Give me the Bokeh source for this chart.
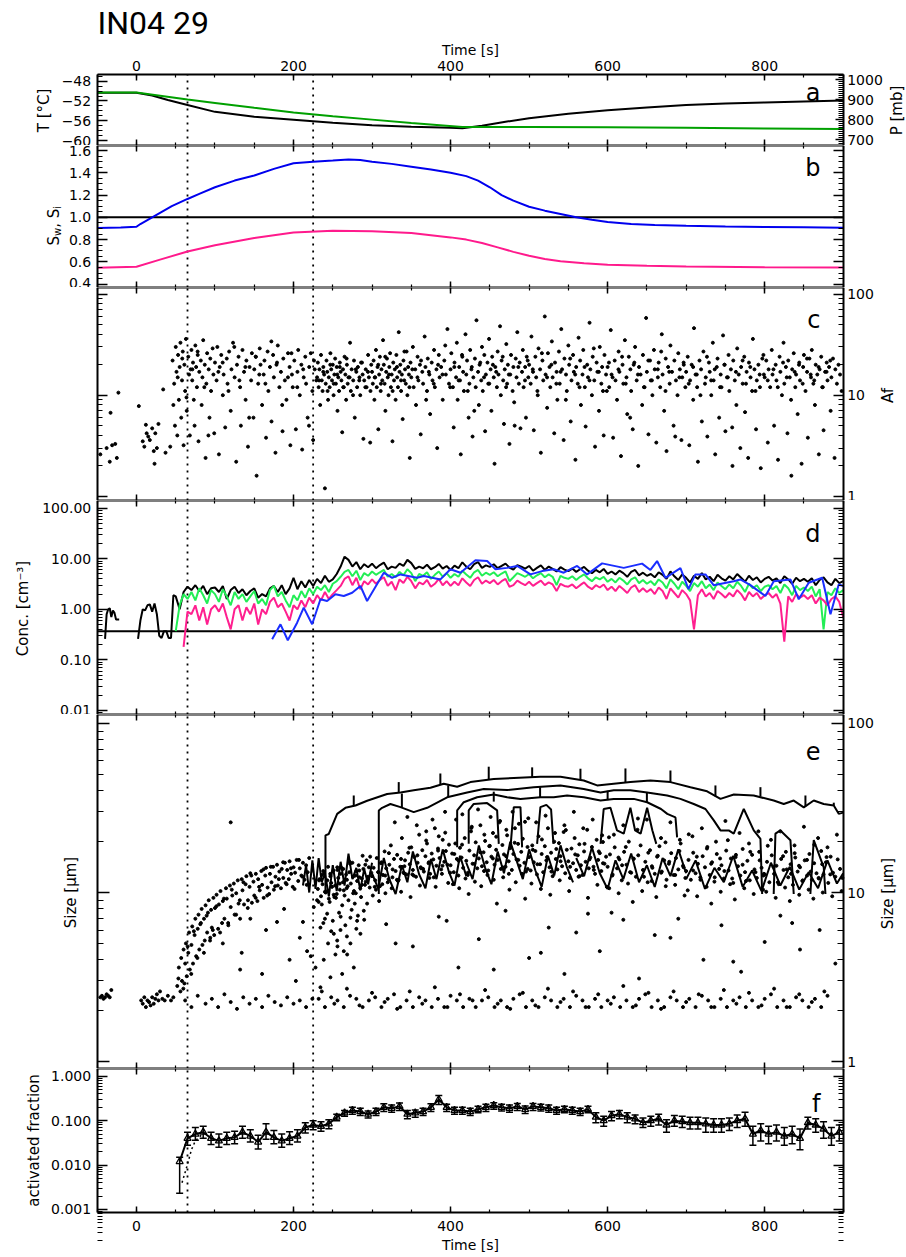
import numpy as np
from bokeh.plotting import figure
from bokeh.models import (Range1d, LinearAxis, LogAxis, FixedTicker, SingleIntervalTicker,
                          Label, ColumnDataSource, Whisker, TeeHead, CustomJSTickFormatter, Grid)
from bokeh.layouts import column
from bokeh.embed import file_html
from bokeh.resources import INLINE

nan = float("nan")

# ---------------- data ----------------
dotted_times = [65, 225]

# panel a: temperature (black, left) and pressure (green, right)
T_t = [-50, 0, 20, 40, 65, 100, 150, 200, 250, 300, 350, 400, 415, 440, 470, 500, 550, 600, 650, 700, 750, 800, 850, 900]
T_v = [-50.35, -50.35, -50.9, -51.8, -52.8, -54.2, -55.2, -55.8, -56.4, -56.9, -57.2, -57.4, -57.5, -57.0, -56.2,
       -55.5, -54.6, -53.9, -53.3, -52.8, -52.5, -52.3, -52.1, -51.9]
P_t = [-50, 0, 65, 100, 150, 200, 250, 300, 350, 415, 500, 600, 700, 800, 900]
P_v = [936, 936, 901, 884, 860, 837, 818, 801, 784, 764, 764, 763, 760, 757, 754]
T_ticks = [-60, -56, -52, -48]
P_ticks = [700, 800, 900, 1000]

# panel b: saturation ratios
sw_t = [-50, -20, 0, 5, 10, 20, 30, 45, 65, 80, 100, 125, 150, 175, 200, 225, 250, 270, 285, 300, 325, 350, 375, 400,
        420, 435, 450, 465, 480, 500, 520, 540, 560, 580, 600, 630, 660, 700, 750, 800, 850, 900]
sw_v = [0.905, 0.908, 0.915, 0.94, 0.96, 1.0, 1.04, 1.10, 1.165, 1.21, 1.27, 1.33, 1.375, 1.435, 1.485, 1.50, 1.51,
        1.52, 1.515, 1.50, 1.48, 1.455, 1.43, 1.40, 1.37, 1.33, 1.27, 1.20, 1.15, 1.095, 1.06, 1.03, 1.0, 0.978,
        0.958, 0.94, 0.932, 0.924, 0.918, 0.914, 0.91, 0.907]
si_t = [-50, 0, 30, 65, 100, 150, 200, 250, 300, 350, 400, 420, 440, 460, 480, 500, 520, 540, 570, 600, 650, 700, 800, 900]
si_v = [0.548, 0.557, 0.62, 0.693, 0.75, 0.815, 0.864, 0.88, 0.875, 0.86, 0.82, 0.80, 0.77, 0.73, 0.69, 0.655, 0.625,
        0.605, 0.588, 0.575, 0.565, 0.558, 0.552, 0.549]
s_ref = 1.0

# panel c: Af scatter (segments of times / values)
c_t = [
    [-46, -38, -34, -31, -27, -25, -23, -33],
    [3, 8, 10, 12, 13, 15, 17, 20, 22, 23, 24, 26, 28, 34, 37, 43],
    [46, 47, 48, 49, 50, 51, 52, 53, 54, 55, 56, 57, 58, 59, 60, 61, 62, 63, 64, 66, 67, 68, 69],
    [70, 71, 72, 73, 74, 75, 76, 77, 78, 79, 80, 82, 83, 84, 85, 87, 88, 89, 90, 92, 93, 94, 95, 97, 98, 99],
    [100, 102, 103, 105, 106, 108, 110, 111, 113, 115, 116, 118, 120, 121, 123, 125, 127, 128, 130, 132, 133, 135,
     137, 139, 140, 142, 144, 146, 147, 149],
    [150, 152, 153, 155, 157, 158, 160, 162, 163, 165, 167, 168, 170, 172, 174, 175, 177, 179, 180, 182, 184, 186,
     187, 189, 191, 193, 195, 196, 198, 199],
    [201, 203, 205, 206, 208, 210, 211, 213, 215, 216, 218, 220, 222, 224, 225, 227, 229],
    [230, 231, 232, 233, 234, 235, 236, 237, 238, 239, 240, 241, 242, 243, 244, 245, 246, 247, 248, 249, 250, 251,
     252, 253, 254, 255, 256, 257, 258, 259, 260, 261, 262, 263, 264, 265, 266, 267, 268, 269, 270, 272, 273, 274,
     276, 277, 278, 280, 281, 282, 284, 285, 286, 288, 289, 290, 292, 293, 295, 296, 298, 299],
    [300, 301, 302, 303, 304, 305, 306, 307, 308, 309, 310, 311, 312, 313, 314, 315, 316, 317, 318, 319, 320, 321,
     322, 323, 324, 325, 326, 327, 328, 329, 330, 331, 332, 333, 334, 335, 336, 337, 338, 339, 340, 341, 342, 343,
     344, 345, 346, 347, 348, 349, 350, 352, 353, 355, 356, 358, 359, 361, 362, 364, 365, 367, 368, 370, 371, 373,
     374, 376, 377, 379, 380, 382, 383, 385, 386, 388, 390, 392, 394, 396, 398],
    [400, 401, 403, 404, 405, 407, 408, 409, 411, 412, 413, 415, 416, 417, 419, 420, 421, 423, 424, 425, 427, 428,
     429, 431, 432, 433, 435, 436, 437, 439, 440, 441, 443, 444, 445, 447, 448, 449, 451, 452, 453, 455, 456, 457,
     459, 460, 461, 463, 464, 465, 467, 468, 469, 471, 472, 473, 475, 476, 477, 479, 480, 481, 483, 484, 485, 487,
     488, 489, 491, 492, 493, 495, 496, 497, 499],
    [500, 502, 503, 505, 506, 508, 509, 511, 512, 514, 515, 517, 518, 520, 521, 523, 524, 526, 527, 529, 530, 532,
     533, 535, 536, 538, 539, 541, 542, 544, 545, 547, 548, 550, 551, 553, 554, 556, 557, 559, 560, 562, 563, 565,
     566, 568, 569, 571, 572, 574, 575, 577, 578, 580, 581, 583, 584, 586, 587, 589, 590, 592, 593, 595, 596, 598, 599],
    [600, 602, 604, 605, 607, 609, 610, 612, 614, 615, 617, 619, 620, 622, 624, 625, 627, 629, 630, 632, 634, 635,
     637, 639, 640, 642, 644, 645, 647, 649, 650, 652, 654, 655, 657, 659, 660, 662, 664, 665, 667, 669, 670, 672,
     674, 675, 677, 679, 680, 682, 684, 685, 687, 689, 690, 692, 694, 695, 697, 699],
    [700, 702, 704, 705, 707, 709, 710, 712, 714, 715, 717, 719, 720, 722, 724, 725, 727, 729, 730, 732, 734, 735,
     737, 739, 740, 742, 744, 745, 747, 749, 750, 752, 754, 755, 757, 759, 760, 762, 764, 765, 767, 769, 770, 772,
     774, 775, 777, 779, 780, 782, 784, 785, 787, 789, 790, 792, 794, 795, 797, 799],
    [800, 802, 804, 805, 807, 809, 810, 812, 814, 815, 817, 819, 820, 822, 824, 825, 827, 829, 830, 832, 834, 835,
     837, 839, 840, 842, 844, 845, 847, 849, 850, 852, 854, 855, 857, 859, 860, 862, 864, 865, 867, 869, 870, 872,
     874, 875, 877, 879, 880, 882, 884, 885, 887, 889, 890, 892, 894, 896, 898],
    [52.5, 58.3, 63.7, 71.2, 77.9, 86.4, 91.6, 104.3, 109.8, 117.2, 124.6, 131.1, 138.7, 143.5, 151.9, 156.4, 164.2,
     171.8, 178.3, 185.6, 192.9, 197.4, 204.8, 212.3, 219.7, 226.1, 232.6, 237.9, 243.4, 246.8, 251.2, 255.7, 258.9,
     263.3, 267.6, 271.4, 275.8, 279.3, 283.7, 287.2, 291.5, 294.8, 297.6, 303.4, 307.9, 311.3, 316.8, 321.5, 326.2,
     331.7, 336.9, 341.2, 347.6, 351.3, 357.8, 362.4, 368.9, 372.3, 378.6, 384.1, 389.7, 393.2, 399.5, 404.8, 410.3,
     414.6, 421.9, 426.5, 430.2, 437.8, 442.6, 449.3, 453.9, 458.1, 466.4, 470.7, 474.2, 481.6, 486.3, 494.8, 498.2,
     504.7, 510.6, 516.3, 522.9, 528.4, 534.7, 540.1, 546.8, 552.3, 558.7, 564.2, 570.6, 576.9, 582.4, 588.8, 594.1,
     601.7, 606.3, 613.8, 618.4, 623.1, 628.7, 633.2, 638.6, 646.3, 651.8, 656.4, 663.9, 668.2, 673.7, 678.5, 686.1,
     691.4, 696.8, 703.3, 708.9, 713.6, 718.2, 726.5, 731.8, 736.4, 743.2, 748.7, 753.1, 758.6, 763.4, 771.9, 776.2,
     781.7, 788.3, 793.6, 798.4, 803.9, 811.2, 816.7, 823.4, 828.1, 833.6, 838.2, 843.7, 848.4, 853.9, 858.6, 863.1,
     868.7, 873.3, 878.8, 883.5, 888.1, 893.6, 897.2],
]
c_v = [
    [2.6, 3.0, 2.2, 3.2, 3.3, 2.4, 10.6, 6.7],
    [7.8, 3.5, 3.1, 5.1, 4.2, 3.9, 3.6, 4.7, 2.8, 2.1, 4.2, 3.0, 5.2, 11.4, 2.7, 3.1],
    [22, 8, 13, 5, 30, 17, 4, 25, 9, 19, 33, 6, 14, 27, 3.2, 20, 11, 36, 7, 24, 16, 4, 18],
    [28, 14, 21, 9, 5, 31, 19, 12, 25, 3.5, 17, 22, 8, 15, 35, 20, 2.4, 13, 26, 18, 6, 23, 11, 29, 16, 4.2],
    [21, 14, 30, 2.6, 19, 25, 10, 16, 4.8, 23, 13, 27, 7, 18, 33, 15, 2.2, 20, 24, 12, 5, 28, 17, 9, 22, 3.1, 19, 14,
     26, 6],
    [18, 24, 1.6, 13, 29, 20, 8, 16, 22, 3.8, 27, 11, 19, 5.5, 25, 15, 2.7, 21, 31, 12, 17, 4.4, 23, 14, 9, 26, 19,
     3.2, 16, 12],
    [22, 4.6, 17, 28, 10, 20, 2.9, 15, 24, 13, 6, 19, 26, 11, 3.6, 18, 14],
    [15, 21, 12, 18, 8, 25, 14, 11, 19, 16, 1.2, 13, 22, 17, 9, 15, 12, 26, 18, 14, 20, 10, 16, 23, 13, 19, 7, 15, 11,
     21, 17, 14, 4.3, 18, 12, 24, 16, 9, 20, 13, 15, 33, 11, 18, 14, 22, 6, 17, 12, 19, 15, 10, 21, 16, 3.7, 14, 18,
     12, 25, 15, 11, 20],
    [17, 13, 22, 9, 15, 28, 12, 19, 4.6, 16, 24, 11, 18, 14, 35, 20, 13, 7, 17, 23, 15, 10, 19, 26, 12, 16, 3.5, 21,
     14, 18, 9, 25, 15, 12, 42, 17, 20, 11, 16, 5.8, 22, 14, 18, 13, 27, 10, 19, 16, 2.4, 21, 15, 30, 12, 18, 8, 24,
     14, 20, 4.1, 17, 13, 38, 19, 11, 23, 16, 6.5, 21, 14, 28, 12, 18, 3.0, 25, 15, 19, 9, 22, 16, 45, 13],
    [18, 26, 12, 4.8, 21, 15, 33, 9, 19, 14, 2.6, 24, 17, 11, 40, 16, 22, 6, 13, 28, 19, 3.9, 15, 23, 12, 55, 17, 8,
     20, 14, 30, 11, 25, 4.4, 16, 21, 13, 36, 18, 7, 24, 15, 2.1, 19, 12, 27, 16, 48, 10, 22, 14, 5.2, 18, 32, 13, 20,
     3.3, 16, 25, 11, 19, 8.5, 23, 15, 42, 13, 21, 4.7, 17, 28, 12, 19, 6, 24, 15],
    [20, 13, 38, 17, 4.5, 24, 15, 10, 29, 18, 2.7, 22, 14, 60, 16, 7.5, 26, 19, 12, 34, 15, 4.2, 21, 17, 9, 27, 13,
     45, 18, 3.6, 23, 16, 11, 31, 20, 5.5, 14, 25, 17, 2.3, 19, 13, 37, 22, 8, 16, 28, 12, 4.9, 20, 15, 52, 18, 10,
     24, 14, 3.1, 21, 17, 7, 30, 13, 19, 4.0, 25, 16, 11],
    [19, 12, 44, 16, 3.8, 22, 14, 9, 27, 17, 2.5, 20, 13, 35, 15, 6.5, 24, 18, 11, 4.6, 21, 30, 14, 2.0, 19, 16, 8,
     25, 12, 58, 17, 4.1, 22, 14, 10, 28, 18, 3.4, 15, 21, 12, 40, 16, 7, 23, 2.8, 19, 13, 31, 17, 5, 22, 14, 10, 26,
     18, 3.6, 15, 20, 12],
    [17, 24, 3.2, 14, 20, 9, 46, 16, 12, 2.2, 22, 18, 5.5, 27, 13, 15, 3.9, 21, 17, 10, 33, 14, 2.6, 19, 23, 6, 16,
     12, 39, 20, 4.4, 15, 25, 11, 18, 2.0, 22, 14, 8, 29, 16, 3.0, 19, 13, 24, 6.8, 17, 2.4, 21, 15, 11, 36, 18, 4.6,
     14, 20, 12, 1.9, 23, 16],
    [15, 22, 3.4, 18, 12, 28, 16, 5, 20, 14, 2.3, 24, 17, 10, 33, 13, 19, 4.2, 22, 15, 1.6, 18, 26, 12, 16, 6.5, 21,
     14, 2.1, 19, 25, 11, 17, 3.8, 23, 15, 28, 13, 8, 20, 16, 2.6, 18, 24, 12, 4.5, 17, 21, 14, 19, 7, 15, 23, 2.4,
     18, 13, 20, 16, 11],
    [15, 23, 9.5, 18, 27, 12, 4, 17, 21, 11, 30, 14, 19, 6, 24, 16, 13, 34, 20, 8, 15, 26, 12, 18, 5, 22, 14, 17, 11,
     20, 13, 16, 19, 12, 23, 15, 10, 18, 14, 21, 12, 17, 3.4, 15, 20, 13, 24, 16, 11, 19, 14, 27, 12, 18, 15, 22, 9,
     17, 13, 20, 16, 31, 12, 19, 14, 25, 11, 18, 7, 21, 15, 13, 20, 17, 24, 12, 16, 5, 19, 14, 22, 18, 11, 26, 15, 20,
     13, 17, 9, 23, 16, 12, 19, 14, 29, 17, 11, 21, 15, 18, 24, 13, 6, 20, 16, 12, 22, 14, 18, 27, 11, 17, 3.9, 15,
     21, 13, 19, 16, 10, 24, 14, 18, 12, 20, 15, 4.8, 17, 22, 13, 19, 11, 16, 25, 14, 18, 12, 21, 15, 9, 17, 20, 13,
     23, 16, 14, 19, 12, 17, 22],
]

# panel d: concentrations, 5 s sampling from 50 s to 900 s
d_t = list(range(50, 905, 5))
bk_early_t = [-40, -38, -36, -34, -32, -30, -28, -26, -24, -22, -21, 2, 5, 8, 11, 14, 17, 20, 23, 26, 29, 32, 35,
              38, 41, 44, 47]
bk_early_v = [0.26, 0.8, 1.0, 1.05, 0.7, 0.95, 0.85, 0.63, 0.63, 0.63, nan, 0.26, 0.6, 1.0, 0.95, 1.2, 1.25, 0.9,
              1.3, 0.8, 0.3, 0.27, 0.37, 0.37, 0.27, 0.27, 1.9]
d_black = [1.8, 1.0, 2.2, 2.8, 2.4, 3.0, 2.3, 2.9, 2.0, 2.6, 2.7,
           2.2, 2.9, 1.6, 2.4, 2.8, 2.1, 2.5, 1.9, 2.3, 2.6,
           1.7, 2.0, 1.8, 2.6, 2.9, 2.2, 3.0, 2.0, 2.6, 4.2,
           2.5, 3.6, 2.7, 3.8, 2.9, 4.0, 3.3, 4.6, 3.5, 3.9,
           5.0, 7.0, 11.0, 9.5, 7.0, 8.6, 6.2, 7.8, 6.8, 8.0,
           6.5, 7.5, 8.4, 6.2, 7.0, 6.6, 8.0, 7.2, 9.5, 8.2,
           6.3, 7.0, 6.5, 7.6, 6.2, 6.8, 7.9, 6.4, 7.2, 6.0,
           7.3, 6.5, 8.5, 7.0, 6.2, 7.8, 8.6, 6.6, 7.4, 6.9,
           7.8, 6.5, 7.2, 8.0, 6.7, 6.1, 7.5, 7.0, 6.4, 7.2,
           5.8, 6.6, 7.4, 6.0, 7.0, 6.3, 5.6, 6.8, 6.1, 5.7,
           6.4, 5.5, 6.2, 6.9, 5.8, 5.2, 6.0, 5.4, 6.3, 5.0,
           5.6, 4.9, 5.8, 5.2, 4.4, 5.5, 6.0, 4.7, 5.3, 4.6,
           5.0, 4.3, 5.4, 4.8, 4.0, 5.6, 4.5, 3.8, 4.9, 4.2,
           3.4, 4.6, 4.0, 5.2, 3.9, 4.4, 3.6, 4.8, 4.1, 3.7,
           4.5, 3.9, 5.0, 4.2, 3.5, 4.6, 3.8, 4.3, 3.4, 4.0,
           4.4, 3.7, 4.1, 3.3, 4.5, 3.9, 3.2, 4.2, 3.6, 4.0,
           3.5, 4.1, 3.0, 3.8, 4.3, 3.4, 3.0, 4.0, 3.3, 3.6]
d_green = [0.37, 1.2, 2.0, 1.6, 2.2, 1.5, 2.6, 1.9, 1.3, 2.4, 2.0,
           1.4, 2.5, 1.8, 1.2, 2.2, 1.6, 2.0, 1.4, 1.8, 2.3,
           1.3, 1.6, 1.2, 2.4, 2.9, 1.8, 2.2, 1.5, 1.1, 1.9,
           1.5, 2.3, 1.7, 2.6, 2.0, 2.8, 2.4, 3.0, 2.2, 3.2,
           3.6, 4.4, 5.5, 6.0, 4.5, 5.8, 3.8, 5.2, 4.6, 5.6,
           4.8, 5.4, 6.0, 4.4, 5.0, 4.3, 5.5, 4.7, 6.2, 5.2,
           3.6, 5.0, 4.6, 5.4, 4.0, 4.8, 5.6, 4.4, 5.2, 4.2,
           5.0, 4.4, 5.8, 4.9, 4.2, 5.4, 6.0, 4.6, 5.3, 4.8,
           5.4, 4.5, 5.1, 5.6, 3.6, 4.3, 5.2, 4.8, 4.4, 5.0,
           4.1, 4.7, 5.2, 4.3, 4.9, 4.4, 3.0, 4.6, 4.2, 4.0,
           4.5, 3.8, 4.4, 4.9, 4.1, 3.6, 4.3, 3.9, 4.4, 3.5,
           4.0, 3.4, 4.2, 3.7, 3.1, 3.9, 4.3, 3.3, 3.8, 3.2,
           3.6, 3.0, 3.9, 3.4, 2.6, 3.9, 3.2, 2.5, 3.5, 2.9,
           2.3, 3.3, 2.8, 3.6, 2.6, 3.1, 2.4, 3.4, 2.9, 2.5,
           3.1, 2.6, 3.5, 2.9, 2.2, 3.2, 2.6, 3.0, 2.3, 2.8,
           3.0, 2.5, 2.9, 2.1, 3.1, 2.6, 1.9, 2.9, 2.4, 2.7,
           2.3, 2.8, 1.8, 2.5, 0.4, 2.2, 1.9, 2.6, 2.1, 2.4]
d_pink = [nan, nan, 0.18, 0.9, 0.8, 1.2, 0.6, 1.1, 0.5, 1.0, 1.2,
          0.9, 1.3, 0.7, 0.4, 1.0, 1.2, 0.6, 1.1, 0.8, 1.3,
          0.5, 1.0, 0.8, 1.4, 1.7, 1.1, 1.3, 0.9, 0.6, 1.2,
          1.0, 1.5, 1.1, 1.7, 1.3, 1.9, 1.5, 2.2, 1.6, 2.0,
          2.4, 2.9, 4.0, 4.5, 3.0, 4.2, 2.5, 3.6, 3.1, 3.9,
          3.2, 3.8, 4.3, 2.9, 3.5, 2.4, 3.9, 3.3, 4.4, 3.6,
          2.6, 3.4, 3.1, 3.8, 2.8, 3.2, 4.0, 3.0, 3.6, 2.9,
          3.5, 3.0, 4.1, 3.4, 2.9, 3.8, 4.3, 3.2, 3.7, 3.3,
          3.8, 3.1, 3.6, 4.0, 2.8, 3.0, 3.7, 3.3, 3.0, 3.5,
          2.9, 3.3, 3.7, 3.0, 3.4, 3.1, 2.3, 3.2, 2.9, 2.8,
          3.1, 2.6, 3.0, 3.4, 2.8, 2.5, 3.0, 2.7, 3.1, 2.4,
          2.8, 2.3, 2.9, 2.5, 2.1, 2.7, 3.0, 2.2, 2.6, 2.2,
          2.5, 2.0, 2.7, 2.3, 1.6, 2.6, 2.1, 1.7, 2.4, 2.0,
          1.5, 0.4, 1.9, 2.5, 1.8, 2.1, 1.6, 2.3, 2.0, 1.7,
          2.1, 1.8, 2.4, 2.0, 1.5, 2.2, 1.8, 2.1, 1.6, 1.9,
          2.1, 1.7, 2.0, 1.3, 0.23, 1.8, 1.4, 2.0, 1.7, 1.9,
          1.6, 1.9, 1.3, 1.7, 1.5, 1.2, 1.6, 1.8, 1.4, 0.7]
bl_t = [172.8, 183.4, 192.7, 204.6, 213, 223.7, 234.3, 242.8, 253.4, 264, 274.7, 285.2, 293.7, 315, 325.6, 336.2,
        357.4, 365.9, 387.1, 399.8, 412.6, 431.7, 446.6, 457.2, 472, 484.8, 501.7, 516.6, 531.4, 544.1, 561.2, 573.9,
        593, 620.5, 643.9, 654.5, 663, 673.6, 692.7, 703, 711.8, 724.6, 735, 760.6, 769, 781.8, 800.9, 811.6, 832.8,
        843.4, 856.1, 873.2, 883.8, 894.3, 900]
bl_v = [0.255, 0.505, 0.244, 0.544, 1.08, 0.505, 1.58, 1.46, 1.98, 1.83, 2.13, 2.89, 1.46, 5.3, 4.2, 4.9, 4.2, 4.55,
        3.9, 6.2, 5.3, 9.3, 9.0, 6.2, 6.6, 7.2, 4.9, 5.7, 6.2, 5.3, 7.2, 4.9, 8.1, 6.6, 8.0, 6.0, 9.0, 4.2, 6.5, 2.5,
        4.9, 4.9, 3.0, 3.6, 3.9, 3.0, 1.83, 3.6, 3.9, 1.58, 3.36, 4.2, 0.80, 3.1, 2.9]
d_threshold = 0.37

# panel e: size scatter (segments)
e_t = [
    [-46, -44, -42, -40, -38, -36, -34, -32],
    [6, 8, 10, 12, 14, 16, 18, 20, 22, 24, 26, 28, 30, 33, 36, 40, 44, 47],
    [52, 54, 56, 57, 58, 60, 61, 62, 63, 64, 66, 67, 68, 70, 71, 72, 74, 75, 76, 78, 79, 80, 82, 83, 84, 86, 87, 88,
     90, 91, 92, 94, 95, 96, 98, 99, 100, 102, 104, 105, 107, 109, 110, 112, 114, 115, 117, 119, 120, 122, 124, 125,
     127, 129, 130, 132, 134, 135, 137, 139, 140, 142, 144, 145, 147, 149, 150, 152, 154, 155, 157, 159, 160, 162,
     164, 165, 167, 169, 170, 172, 174, 175, 177, 179, 180, 182, 184, 185, 187, 189, 190, 192, 194, 195, 197, 199,
     200, 202, 204, 206, 208, 210, 212, 214, 216, 218, 220],
    [53.4, 59.7, 65.2, 69.8, 73.1, 77.6, 81.3, 85.9, 89.4, 93.7, 97.2, 101.8, 106.5, 111.3, 116.8, 121.4, 126.9,
     131.6, 136.2, 141.7, 146.3, 151.8, 156.2, 161.7, 166.4, 171.1, 176.6, 181.3, 186.8, 191.2, 196.7, 201.3, 206.9,
     211.4, 216.8],
    [134, 132, 165, 179, 208, 222, 212, 160, 195, 120, 110, 145, 188, 203],
    [225.8, 234.3, 242.8, 251.3, 255.6, 259.8, 264, 268.3, 272.5, 276.8, 272.5, 281, 285.2, 289.5, 293.7, 217.3, 228,
     238.5, 247, 253.4, 262, 234.3],
    [230, 236, 240, 246, 250, 254, 258, 262, 266, 270, 274, 278, 282, 286, 290, 244, 256, 268, 280, 238, 248, 260],
    [231, 233, 235, 237, 239, 241, 243, 245, 247, 249, 251, 253, 255, 257, 259, 261, 263, 265, 267, 269, 271, 273,
     275, 277, 279, 281, 283, 285, 287, 289, 291, 293, 295, 297, 299, 232, 236, 240, 244, 248, 252, 256, 260, 264,
     268, 272, 276, 280, 284, 288, 292, 296],
    [300, 302, 304, 306, 308, 310, 312, 314, 316, 318, 320, 322, 324, 326, 328, 330, 332, 334, 336, 338, 340, 342,
     344, 346, 348, 350, 352, 354, 356, 358, 360, 362, 364, 366, 368, 370, 372, 374, 376, 378, 380, 382, 384, 386,
     388, 390, 392, 394, 396, 398, 301, 305, 309, 313, 317, 321, 325, 329, 333, 337, 341, 345, 349, 353, 357, 361,
     365, 369, 373, 377, 381, 385, 389, 393, 397],
    [400, 402, 404, 406, 408, 410, 412, 414, 416, 418, 420, 422, 424, 426, 428, 430, 432, 434, 436, 438, 440, 442,
     444, 446, 448, 450, 452, 454, 456, 458, 460, 462, 464, 466, 468, 470, 472, 474, 476, 478, 480, 482, 484, 486,
     488, 490, 492, 494, 496, 498, 403, 407, 411, 415, 419, 423, 427, 431, 435, 439, 443, 447, 451, 455, 459, 463,
     467, 471, 475, 479, 483, 487, 491, 495, 499],
    [500, 502, 504, 506, 508, 510, 512, 514, 516, 518, 520, 522, 524, 526, 528, 530, 532, 534, 536, 538, 540, 542,
     544, 546, 548, 550, 552, 554, 556, 558, 560, 562, 564, 566, 568, 570, 572, 574, 576, 578, 580, 582, 584, 586,
     588, 590, 592, 594, 596, 598, 503, 509, 515, 521, 527, 533, 539, 545, 551, 557, 563, 569, 575, 581, 587, 593, 599],
    [600, 603, 606, 609, 612, 615, 618, 621, 624, 627, 630, 633, 636, 639, 642, 645, 648, 651, 654, 657, 660, 663,
     666, 669, 672, 675, 678, 681, 684, 687, 690, 693, 696, 699, 602, 608, 614, 620, 626, 632, 638, 644, 650, 656,
     662, 668, 674, 680, 686, 692, 698],
    [700, 703, 706, 709, 712, 715, 718, 721, 724, 727, 730, 733, 736, 739, 742, 745, 748, 751, 754, 757, 760, 763,
     766, 769, 772, 775, 778, 781, 784, 787, 790, 793, 796, 799, 702, 708, 714, 720, 726, 732, 738, 744, 750, 756,
     762, 768, 774, 780, 786, 792, 798],
    [800, 803, 806, 809, 812, 815, 818, 821, 824, 827, 830, 833, 836, 839, 842, 845, 848, 851, 854, 857, 860, 863,
     866, 869, 872, 875, 878, 881, 884, 887, 890, 893, 896, 899, 802, 808, 814, 820, 826, 832, 838, 844, 850, 856,
     862, 868, 874, 880, 886, 892, 898],
    [232.6, 237.9, 243.4, 246.8, 251.2, 255.7, 258.9, 263.3, 267.6, 271.4, 275.8, 279.3, 283.7, 287.2, 291.5, 294.8,
     297.6, 303.4, 307.9, 311.3, 316.8, 321.5, 326.2, 331.7, 336.9, 341.2, 347.6, 351.3, 357.8, 362.4, 368.9, 372.3,
     378.6, 384.1, 389.7, 393.2, 399.5, 404.8, 410.3, 414.6, 421.9, 426.5, 430.2, 437.8, 442.6, 449.3, 453.9, 458.1,
     466.4, 470.7, 474.2, 481.6, 486.3, 494.8, 498.2, 504.7, 510.6, 516.3, 522.9, 528.4, 534.7, 540.1, 546.8, 552.3,
     558.7, 564.2, 570.6, 576.9, 582.4, 588.8, 594.1, 601.7, 606.3, 613.8, 618.4, 623.1, 628.7, 633.2, 638.6, 646.3,
     651.8, 656.4, 663.9, 668.2, 673.7, 678.5, 686.1, 691.4, 696.8, 703.3, 708.9, 713.6, 718.2, 726.5, 731.8, 736.4,
     743.2, 748.7, 753.1, 758.6, 763.4, 771.9, 776.2, 781.7, 788.3, 793.6, 798.4, 803.9, 811.2, 816.7, 823.4, 828.1,
     833.6, 838.2, 843.7, 848.4, 853.9, 858.6, 863.1, 868.7, 873.3, 878.8, 883.5, 888.1, 893.6, 897.2],
    [318, 352, 385, 410, 436, 470, 500, 525, 545, 560, 575, 590, 620, 640, 660, 690, 722, 745, 770, 800, 820, 845,
     870, 890, 330, 395, 455, 515, 605, 680, 760, 835],
    [62, 70, 78, 88, 96, 104, 112, 120, 128, 136, 144, 152, 160, 168, 176, 184, 192, 200, 208, 216, 224],
    [232, 240, 248, 256, 264, 272, 280, 288, 296, 304, 312, 320, 328, 336, 344, 352, 360, 368, 376, 384, 392, 400,
     408, 416, 424, 432, 440, 448, 456, 464, 472, 480, 488, 496, 504, 512, 520, 528, 536, 544, 552, 560, 568, 576,
     584, 592, 600, 608, 616, 624, 632, 640, 648, 656, 664, 672, 680, 688, 696, 704, 712, 720, 728, 736, 744, 752,
     760, 768, 776, 784, 792, 800, 808, 816, 824, 832, 840, 848, 856, 864, 872, 880],
    [236, 252, 268, 284, 300, 316, 332, 348, 364, 380, 396, 412, 428, 444, 460, 476, 492, 508, 524, 540, 556, 572,
     588, 604, 620, 636, 652, 668, 684, 700, 716, 732, 748, 764, 780, 796, 812, 828, 844, 860, 876],
]
e_v = [
    [2.4, 2.45, 2.35, 2.4, 2.5, 2.45, 2.4, 2.65],
    [2.3, 2.2, 2.4, 2.1, 2.3, 2.25, 2.15, 2.4, 2.2, 2.35, 2.5, 2.3, 2.6, 2.35, 2.3, 2.45, 2.3, 2.4],
    [2.8, 3.6, 2.6, 4.1, 3.0, 4.6, 2.9, 3.8, 5.0, 3.2,
     4.4, 5.8, 3.5, 4.9, 6.3, 3.8, 5.6, 7.0, 4.2, 6.1,
     7.4, 4.6, 6.6, 8.0, 4.9, 7.0, 5.2, 8.4, 5.8, 7.6,
     9.0, 5.4, 7.9, 6.2, 9.3, 5.6, 8.1, 9.7, 6.1, 8.5,
     10.2, 6.6, 8.9, 7.0, 10.6, 9.2, 6.4, 11.0, 8.2, 9.6,
     11.3, 7.4, 9.9, 11.8, 8.6, 7.0, 12.0, 10.3, 8.5, 11.2,
     12.5, 9.0, 10.8, 13.0, 8.7, 11.6, 9.6, 12.9, 8.9, 12.0,
     10.3, 13.4, 11.1, 9.3, 12.6, 14.0, 10.7, 9.8, 12.9, 11.5,
     14.2, 10.4, 12.4, 14.6, 11.0, 13.3, 10.6, 13.8, 12.2, 15.0,
     11.4, 13.6, 12.0, 15.3, 12.9, 10.8, 14.1, 13.1, 15.6, 11.7,
     13.9, 12.6, 15.0, 11.9, 14.5, 13.2, 16.0],
    [3.1, 2.7, 4.8, 3.3, 5.9, 4.1, 6.5, 4.4, 7.3, 5.2, 6.0, 8.3, 5.8, 9.2, 6.6, 10.4, 7.4, 9.0, 11.5, 8.1, 12.6, 9.3,
     10.8, 13.7, 9.6, 14.2, 10.9, 12.0, 15.1, 11.2, 13.9, 10.5, 15.6, 12.4, 11.1],
    [4.4, 3.5, 6.0, 6.7, 5.4, 4.2, 6.7, 3.3, 4.0, 26, 5.0, 7.0, 8.0, 3.0],
    [8.2, 6.2, 7.5, 5.7, 5.2, 6.0, 4.5, 4.3, 5.0, 3.6, 7.1, 6.8, 5.7, 7.8, 8.6, 4.5, 3.6, 4.0, 3.15, 4.3, 3.3, 2.75],
    [9.0, 8.5, 7.0, 8.8, 6.8, 9.3, 7.6, 8.4, 6.4, 9.0, 7.9, 8.6, 7.3, 9.4, 6.9, 5.0, 4.8, 5.5, 6.1, 6.6, 5.9, 7.2],
    [10.5, 12, 9.5, 11.2, 13, 10, 11.8, 9.2, 12.5, 10.8, 13.5, 11, 9.8, 12.2, 10.4, 14, 11.5, 9.6, 12.8, 10.9, 13.2,
     11.3, 15, 10.2, 12.6, 11.7, 14.5, 10.6, 12.1, 13.8, 11.1, 15.5, 12.4, 10.7, 13.1, 8.8, 12.7, 10.1, 14.2, 11.4,
     9.4, 13.6, 12.9, 10.3, 11.9, 14.8, 9.9, 13.4, 12.3, 16.5, 11.6, 14.1],
    [12.5, 14, 11.8, 16, 13.2, 10.9, 15.1, 12.7, 17.5, 13.9, 11.5, 14.6, 19, 12.3, 15.8, 13.4, 16.7, 11.9, 14.2, 21,
     13.1, 15.5, 12.8, 17.2, 14.7, 18.5, 13.6, 16.2, 12.4, 15, 22, 14.1, 17.8, 13.3, 16.4, 19.5, 14.9, 12.9, 17, 15.7,
     24, 14.4, 18.2, 16, 13.7, 20.5, 15.2, 17.6, 14.6, 19.2, 9.6, 10.4, 8.9, 11.2, 9.9, 12, 10.6, 26, 11.7, 10.1, 13,
     28, 9.4, 12.6, 25, 11, 13.8, 23, 12.2, 27, 10.8, 21.5, 12.9, 30, 11.4],
    [14.5, 17, 13.2, 19.5, 15.8, 12.6, 18.4, 16.1, 14, 21, 15.4, 13.1, 17.7, 23, 14.8, 16.6, 19.8, 13.9, 15.9, 25,
     14.3, 17.3, 20.2, 15.1, 13.5, 18.9, 16.3, 22.5, 14.6, 17.9, 15.6, 26, 13.8, 19.1, 16.8, 14.2, 21.8, 15.3, 18.3,
     13.6, 16.9, 24, 15.7, 19.4, 14.4, 17.4, 20.8, 15, 13.3, 18.6, 11.2, 27, 10.6, 29, 12.1, 9.8, 24.5, 11.6, 31,
     10.9, 22, 12.7, 28, 11.9, 8.6, 26.5, 12.3, 23.5, 10.4, 30, 11.5, 25.5, 12.9, 9.2, 27.5],
    [16.2, 13.5, 19, 15.1, 17.6, 12.8, 21.5, 14.7, 16.9, 13.2, 18.8, 15.5, 24, 14.1, 17.2, 12.5, 20, 15.8, 13.7,
     19.6, 16.4, 14.3, 22.8, 13, 17.9, 15.3, 12.2, 18.2, 14.9, 21, 13.6, 16.6, 19.3, 14.5, 12.7, 17.5, 15.2, 23.5,
     13.9, 16.1, 18.6, 14.2, 12.9, 20.5, 15.6, 17.1, 13.4, 19.9, 14.8, 16.3, 11.3, 26, 10.5, 28.5, 9.7, 22.5, 11.8,
     25, 10.2, 30, 12.4, 24, 9.3, 27, 11.1, 21.8, 10.8],
    [14.2, 16.8, 12.6, 18.5, 13.9, 15.7, 11.8, 17.4, 14.6, 20, 13.1, 15.9, 12.4, 16.6, 19, 13.6, 15.2, 11.5, 17.8,
     14, 12.9, 16.3, 18.8, 13.3, 15.5, 11.9, 14.8, 17.1, 12.7, 16, 13.7, 19.5, 14.4, 12.2, 10.6, 22, 9.9, 25, 11.3,
     8.8, 23.5, 10.2, 27, 11.7, 9.4, 21, 10.9, 26, 11.1, 20.5, 9.6],
    [13.4, 15.6, 11.9, 17.2, 13, 14.8, 12.3, 16.4, 14.1, 18.6, 12.7, 15.1, 11.6, 16.9, 13.8, 14.5, 12.1, 17.7, 13.5,
     15.9, 11.4, 16.2, 14.3, 12.6, 18.1, 13.2, 15.4, 11.8, 16.7, 13.7, 12.2, 17.4, 14, 12.9, 10.3, 21.5, 9.5, 24,
     10.8, 8.6, 20, 10.1, 26.5, 11.2, 9.1, 22.5, 10.6, 19.5, 9.8, 23, 10.4],
    [12.8, 15.2, 11.5, 16.6, 12.9, 14.4, 11.2, 15.8, 13.6, 17.4, 12.3, 14.7, 11.1, 16.1, 13.3, 14.1, 11.7, 15.5,
     12.6, 16.9, 11.9, 14.9, 13, 12.1, 17.6, 12.8, 15.1, 11.4, 16.3, 13.1, 12.4, 15.7, 13.8, 12.2, 10.1, 20.5, 9.3,
     23, 10.7, 8.9, 19, 9.7, 24.5, 10.4, 9.2, 21, 10, 18.5, 9.5, 22, 10.2],
    [11.8, 13.4, 10.2, 12.9, 9.7, 14.1, 11.3, 13.8, 10.6, 15.2, 12.4, 9.9, 13.5, 11.1, 14.6, 12.2, 16.3, 10.8, 13.2,
     14.9, 12.6, 17.1, 13.7, 11.9, 15.8, 14.3, 18.4, 12.8, 16.6, 13.9, 20.3, 15.1, 12.3, 17.7, 14.4, 22.6, 13.1, 16.9,
     15.4, 19.2, 12.7, 24.1, 14.8, 17.3, 13.4, 18.8, 15.9, 21.4, 14.1, 16.4, 12.9, 19.7, 15.6, 26.2, 13.8, 17.9, 14.7,
     20.6, 16.2, 13.3, 18.1, 15.3, 23.4, 14.2, 16.8, 12.5, 19.4, 15.7, 13.6, 17.5, 14.9, 21.2, 12.8, 16.1, 14.5,
     18.6, 13.2, 15.8, 27.4, 12.4, 17.2, 14.3, 16.5, 13.1, 19.8, 15.2, 12.7, 17.6, 14.1, 22.1, 13.5, 16.3, 11.9, 18.2,
     14.8, 12.3, 15.9, 13.4, 20.4, 12.1, 16.7, 14.6, 11.7, 17.4, 13.2, 15.5, 12.6, 18.9, 14.2, 11.5, 16.4, 13.7,
     12.9, 17.1, 14.4, 11.8, 15.6, 13.3, 19.2, 12.2, 14.7, 16.2, 12.8],
    [6.5, 4.8, 7.2, 3.6, 5.3, 7.8, 4.1, 6.2, 3.3, 5.8, 7.5, 4.5, 6.9, 3.1, 5.6, 7.0, 4.0, 6.4, 3.4, 5.1, 7.3, 4.6,
     6.0, 3.8, 5.0, 6.8, 3.5, 4.4, 7.6, 5.4, 3.9, 6.6],
    [2.3, 2.1, 2.45, 2.2, 2.35, 2.1, 2.5, 2.25, 2.05, 2.4, 2.2, 2.35, 2.1, 2.45, 2.25, 2.15, 2.4, 2.2, 2.3, 2.1, 2.35],
    [2.35, 2.1, 2.4, 2.3, 2.1, 2.45, 2.35, 2.1, 2.3, 2.4, 2.1, 2.35, 2.5, 2.1, 2.3, 2.1, 2.4, 2.3, 2.1, 2.35, 2.1,
     2.45, 2.3, 2.1, 2.35, 2.1, 2.3, 2.4, 2.1, 2.3, 2.1, 2.35, 2.5, 2.1, 2.3, 2.1, 2.4, 2.3, 2.1, 2.35, 2.1, 2.45,
     2.3, 2.1, 2.35, 2.1, 2.3, 2.4, 2.1, 2.3, 2.1, 2.35, 2.5, 2.1, 2.3, 2.1, 2.4, 2.3, 2.1, 2.35, 2.1, 2.45, 2.3,
     2.1, 2.35, 2.1, 2.3, 2.4, 2.1, 2.3, 2.1, 2.35, 2.5, 2.1, 2.3, 2.1, 2.4, 2.3, 2.1, 2.35, 2.1, 2.45],
    [2.6, 2.2, 2.7, 2.15, 2.55, 2.25, 2.05, 2.6, 2.2, 2.75, 2.1, 2.5, 2.3, 2.65, 2.2, 2.05, 2.55, 2.15, 2.7, 2.25,
     2.6, 2.1, 2.5, 2.2, 2.8, 2.15, 2.55, 2.05, 2.6, 2.25, 2.5, 2.1, 2.65, 2.2, 2.55, 2.15, 2.7, 2.1, 2.5, 2.25, 2.6],
]

# panel e: contour lines of the size distribution
ctr_t = [
    [240.7, 240.7, 244.9, 255.6, 266.1, 278.9, 293.8, 319.2, 336.2, 353.1, 374.4, 391.3, 408.4, 425.3, 455, 480.5,
     514.4, 540, 569.6, 586.6, 607.8, 629, 654.5, 680, 705.5, 726.7, 743.7, 760.7, 786, 811.5, 824.3, 837, 849.8,
     862.5, 875.2, 888, 894.3, 900],
    [308.6, 308.6, 312.8, 323.4, 336.2, 353.1, 370.2, 395.6, 421.1, 442.3, 472, 505.9, 540, 569.6, 591, 607.8, 629,
     650.3, 675.8, 692.7, 709.7, 724.6, 735.2, 743.7, 754.2, 760.6, 773.4, 786.1, 794.6, 796.8],
    [408.4, 408.4, 416.8, 433.8, 455, 472, 489, 514.4, 531.4, 548.4, 569.6, 591, 607.8, 633.3, 650.3, 668, 676,
     686.4, 688.5],
    [423.1, 423.1, 429.5, 446.5, 459.3, 461.4],
    [476.3, 480.5, 489, 491.1],
    [510.2, 514.4, 522, 528, 531],
    [591, 595, 603.6, 612, 620.5, 629, 635, 642, 650.3, 657, 662],
    [811.5, 813.7, 820, 832.8, 837],
    [858.2, 862.5, 875.2, 877.4],
    [212, 216, 220, 224, 228, 232, 236, 240, 245, 250, 255, 260, 265, 270, 275, 280, 285, 290, 295, 300],
    [300, 308, 315, 322, 330, 338, 345, 352, 360, 368, 375, 382, 390, 398, 405, 412, 420],
    [420, 428, 436, 444, 452, 460, 468, 476, 484, 492, 500, 508, 516, 524, 532, 540, 548, 556],
    [560, 570, 580, 590, 600, 610, 620, 630, 640, 650, 660, 670, 680, 690, 700],
    [700, 712, 724, 736, 748, 760, 772, 784, 796, 808, 820, 832, 844, 856, 868, 880, 892, 900],
]
ctr_v = [
    [10.3, 21.8, 22.2, 29.2, 31.7, 32.7, 34.9, 38.3, 39.1, 40.3, 41.7, 44, 42.2, 45, 47, 47.6, 48.4, 48.4, 46, 43,
     44, 45, 46, 45, 42, 39.7, 35.8, 38, 37.5, 35, 33.4, 35, 31.9, 35, 33.4, 32.7, 29.2, 29.7],
    [9.8, 30.6, 31.7, 33.4, 32, 29.9, 31.7, 36.6, 39.1, 41, 40.4, 42, 43, 41, 39.1, 40.3, 40.3, 39.1, 37.5, 35.8,
     33.4, 31.2, 26.7, 23.3, 23.3, 22.3, 31.2, 23.3, 20.8, 9.8],
    [18.5, 30.6, 34.2, 36.6, 38, 36.6, 35.8, 36.6, 36.6, 37.5, 36.6, 35, 35.8, 35.8, 34.2, 31.2, 29.2, 27.8, 21.2],
    [19.4, 30.6, 33.4, 33.8, 30.6, 19.4],
    [18.5, 32, 32, 18.5],
    [19.4, 32, 33, 31, 19.4],
    [19.4, 31.2, 31.7, 23.3, 22.3, 31.7, 23.3, 22.3, 31.7, 23.3, 19.4],
    [9.8, 22.3, 23.3, 20.4, 9.8],
    [9.8, 20.4, 14.1, 9.8],
    [11, 14.5, 10, 15.5, 10.5, 16, 11.5, 13, 9.5, 14.5, 10.2, 15.2, 11, 17, 12, 14, 10.3, 13.8, 11.2, 15],
    [13, 10.5, 16, 12, 9.8, 14.5, 11.5, 17.5, 12.8, 10.6, 15.8, 12, 18, 13.2, 11, 16.5, 12.5],
    [15, 12, 19, 14, 11.2, 17.5, 13, 20, 15.5, 12, 18, 13.5, 10.8, 16.5, 12.6, 19, 14.2, 11.5],
    [16, 12.5, 18.5, 13, 10.5, 15.5, 12, 17, 11.5, 14.5, 10.8, 16, 12.5, 18, 13],
    [12, 15.5, 10.5, 14, 11.5, 16.5, 10.8, 13.5, 10.2, 15, 11, 14.2, 10.4, 13.2, 10.6, 15.5, 11.3, 13],
]
tick_t = [276.7, 334, 387, 448.6, 503.9, 565.4, 622.7, 680, 737.3, 794.6, 851.9, 888, 338, 397, 455, 514, 600, 650]
tick_lo = [32.5, 39, 43.5, 46.5, 48.2, 46.3, 44.7, 45, 37, 37, 32.3, 32.7, 32, 36.8, 34.5, 36.6, 35.2, 34.3]
tick_hi = [37.5, 45, 50.6, 55.5, 55, 54, 54.2, 52.7, 43, 42, 37.5, 34, 38.5, 43, 39.5, 42, 40, 39]

# panel f: activated fraction
af_t = [55, 65, 75, 85, 95, 105, 115, 125, 135, 145, 155, 165, 175, 185, 195, 205, 215, 225, 235, 245, 255, 265, 275,
        285, 295, 305, 315, 325, 335, 345, 355, 365, 375, 385, 395, 405, 415, 425, 435, 445, 455, 465, 475, 485, 495,
        505, 515, 525, 535, 545, 555, 565, 575, 585, 595, 605, 615, 625, 635, 645, 655, 665, 675, 685, 695, 705, 715,
        725, 735, 745, 755, 765, 775, 785, 795, 805, 815, 825, 835, 845, 855, 865, 875, 885, 895]
af_v = [0.012, 0.04, 0.05, 0.055, 0.04, 0.035, 0.04, 0.042, 0.055, 0.045, 0.033, 0.055, 0.042, 0.035, 0.04, 0.045,
        0.07, 0.08, 0.075, 0.085, 0.12, 0.15, 0.17, 0.16, 0.14, 0.16, 0.2, 0.19, 0.21, 0.14, 0.15, 0.16, 0.2, 0.3,
        0.2, 0.17, 0.17, 0.16, 0.18, 0.2, 0.22, 0.2, 0.19, 0.21, 0.18, 0.21, 0.2, 0.19, 0.17, 0.18, 0.17, 0.16, 0.18,
        0.12, 0.1, 0.13, 0.14, 0.12, 0.11, 0.09, 0.1, 0.11, 0.08, 0.1, 0.095, 0.09, 0.09, 0.085, 0.08, 0.08, 0.085,
        0.1, 0.11, 0.05, 0.06, 0.05, 0.055, 0.045, 0.05, 0.04, 0.09, 0.08, 0.065, 0.045, 0.055]
af_hi = [0.015, 0.055, 0.07, 0.075, 0.055, 0.05, 0.055, 0.058, 0.075, 0.062,
         0.047, 0.085, 0.06, 0.05, 0.056, 0.062, 0.09, 0.1, 0.095, 0.105,
         0.14, 0.17, 0.2, 0.19, 0.165, 0.19, 0.24, 0.225, 0.25, 0.17,
         0.175, 0.19, 0.24, 0.37, 0.235, 0.2, 0.2, 0.19, 0.21, 0.235,
         0.255, 0.235, 0.225, 0.245, 0.215, 0.245, 0.235, 0.225, 0.2, 0.21,
         0.2, 0.19, 0.21, 0.15, 0.125, 0.16, 0.17, 0.15, 0.135, 0.115,
         0.125, 0.14, 0.105, 0.13, 0.125, 0.12, 0.12, 0.115, 0.11, 0.11,
         0.115, 0.135, 0.155, 0.075, 0.085, 0.075, 0.08, 0.07, 0.075, 0.065,
         0.12, 0.11, 0.095, 0.07, 0.08]
af_lo = [0.0023, 0.028, 0.036, 0.04, 0.029, 0.025, 0.029, 0.03, 0.04, 0.033,
         0.023, 0.038, 0.03, 0.025, 0.029, 0.033, 0.053, 0.062, 0.058, 0.066,
         0.1, 0.125, 0.14, 0.13, 0.115, 0.13, 0.16, 0.155, 0.17, 0.11,
         0.12, 0.13, 0.16, 0.23, 0.16, 0.14, 0.14, 0.13, 0.15, 0.16,
         0.18, 0.165, 0.155, 0.17, 0.145, 0.17, 0.165, 0.155, 0.14, 0.15,
         0.14, 0.13, 0.15, 0.09, 0.075, 0.1, 0.11, 0.09, 0.085, 0.07,
         0.075, 0.08, 0.055, 0.075, 0.07, 0.065, 0.065, 0.055, 0.055, 0.055,
         0.06, 0.07, 0.075, 0.028, 0.035, 0.03, 0.035, 0.028, 0.03, 0.022,
         0.065, 0.055, 0.04, 0.028, 0.035]
af_dot_t = [58, 61, 64, 67, 70, 74, 78, 82, 86]
af_dot_v = [0.004, 0.006, 0.009, 0.014, 0.022, 0.032, 0.04, 0.046, 0.05]

# ---------------- geometry / helpers ----------------
FONT = "DejaVu Sans"
W = 906
X0, X1 = -50, 900
PX_L, PX_R = 96.7, 842.7
KX = (X1 - X0) / (PX_R - PX_L)
XR = Range1d(X0 - PX_L * KX, X1 + (W - PX_R) * KX)


def ext_range(y0, y1, top, ph, bot, log=False):
    a, b = (np.log10(y0), np.log10(y1)) if log else (y0, y1)
    k = (b - a) / ph
    lo, hi = a - bot * k, b + top * k
    if log:
        return Range1d(10 ** lo, 10 ** hi)
    return Range1d(lo, hi)


def flat(ts, vs):
    X, Y = [], []
    for a, b in zip(ts, vs):
        n = min(len(a), len(b))
        X += list(a[:n])
        Y += list(b[:n])
    return np.asarray(X, dtype=float), np.asarray(Y, dtype=float)


def fmt(code):
    return CustomJSTickFormatter(code=code)


def style(ax, maj_in, min_in, labels=True, standoff=6):
    ax.axis_line_width = 2
    ax.axis_line_color = "black"
    ax.major_tick_line_width = 1.5
    ax.minor_tick_line_width = 1.2
    ax.major_tick_line_color = "black"
    ax.minor_tick_line_color = "black"
    ax.major_tick_out = 0
    ax.minor_tick_out = 0
    ax.major_tick_in = maj_in
    ax.minor_tick_in = min_in
    if labels:
        ax.major_label_text_font = FONT
        ax.major_label_text_font_size = "14px"
        ax.major_label_standoff = standoff
        ax.major_label_text_color = "black"
    else:
        ax.formatter = fmt("return ''")
        ax.major_label_text_font_size = "0px"
        ax.major_label_standoff = 0
    return ax


class Panel:
    def __init__(self, h, y0, y1, top=0, bot=0, log=False):
        self.h, self.y0, self.y1, self.log = h, y0, y1, log
        ph = h - top - bot
        self.p = figure(width=W, height=h, x_range=XR, y_range=ext_range(y0, y1, top, ph, bot, log),
                        y_axis_type=("log" if log else "linear"),
                        x_axis_location=None, y_axis_location=None, title=None,
                        min_border=0, min_border_left=0, min_border_right=0,
                        min_border_top=0, min_border_bottom=0,
                        output_backend="svg", toolbar_location=None,
                        outline_line_color=None, background_fill_color="white", border_fill_color="white")
        for r in list(self.p.center):
            if isinstance(r, Grid):
                r.visible = False
        for t in dotted_times:
            self.p.segment(x0=[t], y0=[y0], x1=[t], y1=[y1], line_color="black", line_width=1.8, line_dash="2 5")

    def hline(self, yv):
        self.p.segment(x0=[X0], y0=[yv], x1=[X1], y1=[yv], line_color="black", line_width=2)

    def yaxis(self, side, ticker, code=None, maj=10, mnr=5, standoff=6, range_name="default", bounds=None):
        cls = LogAxis if self.log else LinearAxis
        b = bounds if bounds is not None else (self.y0, self.y1)
        ax = cls(ticker=ticker, fixed_location=(X0 if side == "left" else X1), bounds=b, y_range_name=range_name)
        if code is not None:
            ax.formatter = fmt(code)
        style(ax, maj, mnr, labels=(code is not None), standoff=standoff)
        self.p.add_layout(ax, side)

    def xaxes(self, top_labels=False, bottom_labels=False):
        for loc, lab, yv in (("above", top_labels, self.y1), ("below", bottom_labels, self.y0)):
            ax = LinearAxis(ticker=SingleIntervalTicker(interval=200, num_minor_ticks=4),
                            fixed_location=yv, bounds=(X0, X1))
            if lab:
                ax.formatter = fmt("return tick.toFixed(0)")
            style(ax, 6, 3, labels=lab, standoff=(4 if loc == "above" else 8))
            if lab:
                ax.axis_label = "Time [s]"
                ax.axis_label_text_font = FONT
                ax.axis_label_text_font_size = "14px"
                ax.axis_label_text_font_style = "normal"
                ax.axis_label_text_color = "black"
                ax.axis_label_standoff = (0 if loc == "above" else 3)
            self.p.add_layout(ax, loc)

    def text(self, s, x, y, size="15px", angle=0.0, align="center", baseline="middle", font=FONT):
        self.p.add_layout(Label(x=x, y=y, x_units="screen", y_units="screen", text=s, angle=angle,
                                text_align=align, text_baseline=baseline, text_font=font,
                                text_font_size=size, text_color="black"))

    def letter(self, s, y):
        self.text(s, 820, y, size="24px", align="right", baseline="alphabetic")


LOG_MINOR = [m * 10.0 ** k for k in range(-4, 3) for m in range(2, 10)]
VERT = np.pi / 2

# ---------------- panel a (page y 0..145, plot 74..145) ----------------
A = Panel(145, -61.0, -46.65, top=74)
pa = A.p
pa.extra_y_ranges = {"p": ext_range(672, 1026, 74, 71, 0)}
pa.line(T_t, T_v, line_color="black", line_width=2)
pa.line(P_t, P_v, line_color="#00a000", line_width=2, y_range_name="p")
A.yaxis("left", FixedTicker(ticks=T_ticks, minor_ticks=list(range(-61, -46))),
        code="return tick.toFixed(0).replace('-', '\\u2212')")
A.yaxis("right", FixedTicker(ticks=P_ticks, minor_ticks=list(range(680, 1030, 10))),
        code="return tick.toFixed(0)", maj=8, standoff=4, range_name="p", bounds=(672, 1026))
A.xaxes(top_labels=True)
A.text("IN04 29", 97, 123, size="32px", align="left", font="Roboto")
A.text("T [°C]", 43, 35, angle=VERT)
A.text("P [mb]", 896, 35, angle=VERT)
A.letter("a", 53)

# ---------------- panel b (145..287) ----------------
B = Panel(142, 0.37, 1.645)
pb = B.p
B.hline(s_ref)
pb.line(sw_t, sw_v, line_color="#0000ee", line_width=2)
pb.line(si_t, si_v, line_color="#ff1a8c", line_width=2)
B.yaxis("left", SingleIntervalTicker(interval=0.2, num_minor_ticks=4), code="return tick.toFixed(1)")
B.yaxis("right", SingleIntervalTicker(interval=0.2, num_minor_ticks=4))
B.xaxes()
B.text("S", 53, 42, angle=VERT, align="left", baseline="alphabetic")
B.text("w", 57, 51.5, size="10px", angle=VERT, align="left", baseline="alphabetic")
B.text(", S", 53, 59.7, angle=VERT, align="left", baseline="alphabetic")
B.text("i", 57, 78.8, size="10px", angle=VERT, align="left", baseline="alphabetic")
B.letter("b", 120)

# ---------------- panel c (287..500) ----------------
C = Panel(213, 0.91, 116, log=True)
cx, cy = flat(c_t, c_v)
C.p.scatter(cx, cy, size=3, color="black")
C.yaxis("right", FixedTicker(ticks=[1, 10, 100], minor_ticks=LOG_MINOR), code="return tick.toFixed(0)", standoff=4)
C.yaxis("left", FixedTicker(ticks=[1, 10, 100], minor_ticks=LOG_MINOR))
C.xaxes()
C.text("Af", 887, 105, angle=VERT)
C.letter("c", 181)

# ---------------- panel d (500..714) ----------------
D = Panel(214, 0.0083, 142, log=True)
pdd = D.p
D.hline(d_threshold)
pdd.line(np.asarray(bk_early_t + d_t, dtype=float), np.asarray(bk_early_v + d_black, dtype=float),
         line_color="black", line_width=2)
pdd.line(np.asarray(d_t, dtype=float), np.asarray(d_green, dtype=float), line_color="#22ee55", line_width=2)
pdd.line(np.asarray(d_t, dtype=float), np.asarray(d_pink, dtype=float), line_color="#ff1f8f", line_width=2)
pdd.line(bl_t, bl_v, line_color="#1a2eff", line_width=2)
D.yaxis("left", FixedTicker(ticks=[0.01, 0.1, 1, 10, 100], minor_ticks=LOG_MINOR), code="return tick.toFixed(2)")
D.yaxis("right", FixedTicker(ticks=[0.01, 0.1, 1, 10, 100], minor_ticks=LOG_MINOR))
D.xaxes()
D.text("Conc. [cm\u207b\u00b3]", 22, 106, angle=VERT)
D.letter("d", 181)

# ---------------- panel e (714..1068) ----------------
E = Panel(354, 0.91, 113, log=True)
pe = E.p
ex, ey = flat(e_t, e_v)
pe.scatter(ex, ey, size=3, color="black")
for a, b in zip(ctr_t, ctr_v):
    n = min(len(a), len(b))
    pe.line(a[:n], b[:n], line_color="black", line_width=2)
pe.segment(x0=tick_t, y0=tick_lo, x1=tick_t, y1=tick_hi, line_color="black", line_width=2)
E.yaxis("right", FixedTicker(ticks=[1, 10, 100], minor_ticks=LOG_MINOR), code="return tick.toFixed(0)",
        maj=12, mnr=6, standoff=4)
E.yaxis("left", FixedTicker(ticks=[1, 10, 100], minor_ticks=LOG_MINOR), maj=12, mnr=6)
E.xaxes()
E.text("Size [\u03bcm]", 70, 176, angle=VERT)
E.text("Size [\u03bcm]", 887, 175, angle=VERT)
E.letter("e", 318)

# ---------------- panel f (1068..1255, plot 1068..1212) ----------------
F = Panel(187, 0.00085, 1.5, bot=43, log=True)
pf = F.p
src = ColumnDataSource(dict(t=af_t, v=af_v, lo=af_lo, hi=af_hi))
pf.add_layout(Whisker(base="t", upper="hi", lower="lo", source=src, line_color="black", line_width=1.5,
                      upper_head=TeeHead(size=7, line_width=1.5, line_color="black"),
                      lower_head=TeeHead(size=7, line_width=1.5, line_color="black")))
pf.line(af_dot_t, af_dot_v, line_color="black", line_width=1.5, line_dash="2 3")
pf.line("t", "v", source=src, line_color="black", line_width=2)
pf.scatter("t", "v", source=src, marker="triangle", size=7, fill_color=None, line_color="black", line_width=1.3)
F.yaxis("left", FixedTicker(ticks=[0.001, 0.01, 0.1, 1], minor_ticks=LOG_MINOR), code="return tick.toFixed(3)")
F.yaxis("right", FixedTicker(ticks=[0.001, 0.01, 0.1, 1], minor_ticks=LOG_MINOR))
F.xaxes(bottom_labels=True)
F.text("activated fraction", 33, 115, angle=VERT)
F.letter("f", 152)

layout = column(A.p, B.p, C.p, D.p, E.p, F.p, spacing=0)
open("out.html", "w").write(file_html(layout, INLINE))
